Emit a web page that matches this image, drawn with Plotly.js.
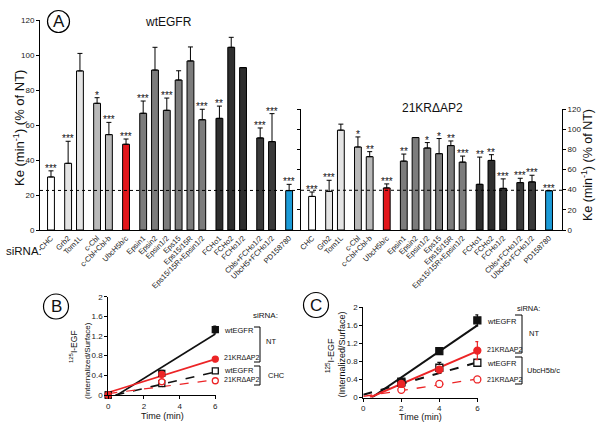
<!DOCTYPE html>
<html>
<head>
<meta charset="utf-8">
<script src="https://cdn.plot.ly/plotly-3.0.1.min.js"></script>
<style>
  html, body { margin: 0; padding: 0; background: #fff; }
  #chart { width: 602px; height: 430px; }
</style>
</head>
<body>
<div id="chart"></div>
<script>
// ---- panel A: Ke bars, wtEGFR (left) and 21KRdAP2 (right)
var siRNA = ["CHC", "Grb2", "Tom1L", "c-Cbl", "c-Cbl+Cbl-b", "UbcH5b/c",
  "Epsin1", "Epsin2", "Epsin1/2", "Eps15", "Eps15/15R", "Eps15/15R+Epsin1/2",
  "FCHo1", "FCHo2", "FCHo1/2", "Cbls+FCHo1/2", "UbcH5+FCHo1/2", "PD158780"];
var siGroup = [0, 1, 1, 2, 2, 3, 4, 4, 4, 4, 4, 4, 5, 5, 5, 6, 6, 7];

var wtKe = [30.3, 38.1, 90.9, 72.4, 54.5, 49, 66.7, 91.4, 68.4, 85.7, 96.6, 63, 63.8, 104.4, 92.8, 52.6, 50.5, 22.5];
var wtErr = [3.5, 12.6, 10, 3.2, 7, 3, 7, 13, 7, 5.3, 8, 6, 7, 5.7, 0, 5.7, 16, 3.6];
var wtStars = ["***", "***", "", "*", "***", "***", "***", "", "***", "", "", "***", "**", "", "", "***", "***", "***"];
var wtLevel = 22.6;

var krKe = [33.3, 38.3, 99, 82.3, 72.7, 41.7, 68.3, 91.7, 81.3, 75.7, 83.7, 67.3, 45.3, 69, 41.3, 47, 47.7, 39];
var krErr = [4.4, 11, 6, 10, 5, 4, 7, 0, 5.4, 15, 4.6, 6, 27, 5.7, 9.4, 4.3, 6.6, 0];
var krStars = ["***", "***", "", "*", "**", "***", "**", "", "*", "*", "**", "***", "**", "**", "***", "***", "***", "***"];
var krLevel = 39.4;

// ---- panel B: 125I-EGF uptake, NT vs CHC siRNA
var timeB = [0, 3, 6];
var bWtNT = [0, 0.44, 1.33],  bWtNTerr = [0, 0.06, 0.07];
var bKrNT = [0, 0.42, 0.73],  bKrNTerr = [0, 0.05, 0.05];
var bWtCHC = [0, 0.23, 0.49], bWtCHCerr = [0, 0.03, 0.03];
var bKrCHC = [0, 0.27, 0.29], bKrCHCerr = [0, 0.03, 0.02];
// fitted lines as [start, end]
var bFitT = { wtNT: [0.5, 6], krNT: [0, 6], wtCHC: [0.4, 6], krCHC: [0, 6] };
var bFitY = { wtNT: [0, 1.24], krNT: [0.05, 0.73], wtCHC: [0, 0.47], krCHC: [0.03, 0.31] };

// ---- panel C: 125I-EGF uptake, NT vs UbcH5b/c siRNA
var timeC = [2, 4, 6];
var cWtNT = [0.35, 1.03, 1.71],  cWtNTerr = [0.03, 0.05, 0.12];
var cKrNT = [0.30, 0.62, 1.04],  cKrNTerr = [0.02, 0.05, 0.2];
var cWtUbc = [0.33, 0.66, 0.77], cWtUbcErr = [0.03, 0.12, 0.03];
var cKrUbc = [0.17, 0.30, 0.40], cKrUbcErr = [0.02, 0.02, 0.03];
var cFitT = { wtNT: [0.45, 6], krNT: [0.35, 6], wtUbc: [0, 6], krUbc: [0, 6] };
var cFitY = { wtNT: [0, 1.6], krNT: [0, 1.03], wtUbc: [0.06, 0.78], krUbc: [0.025, 0.41] };

var timeTicks = [0, 2, 4, 6];
var uptakeTicks = [0, 0.4, 0.8, 1.2, 1.6, 2];
var uptakeTickText = ["0", "0.4", "0.8", "1.2", "1.6", "2"];

// ---- styling
var W = 602, H = 430;
function px(x) { return x / W; }
function py(y) { return 1 - y / H; }
var FONT = "Liberation Sans, Arial, sans-serif";
var groupColors = ["#ffffff", "#e4e4e4", "#b9b9b9", "#e3161b", "#7c7c7c", "#2e2e2e", "#3a3a3a", "#1b9bd8"];
var RED = "#ec2426", BLACK = "#111111";

var barPos = siRNA.map(function (s, i) { return i + siGroup[i] * 0.45; });
var barColors = siGroup.map(function (g) { return groupColors[g]; });
var zeros = siRNA.map(function () { return 0; });

function barTrace(vals, errs, xa, ya) {
  return {
    type: "bar", x: barPos, y: vals, xaxis: xa, yaxis: ya, width: 0.58,
    marker: { color: barColors, line: { color: "#000", width: 1 } },
    error_y: { type: "data", symmetric: false, array: errs, arrayminus: zeros,
      color: "#000", thickness: 1, width: 2.5 },
    hoverinfo: "skip", showlegend: false
  };
}

function fitTrace(t, y, color, dash, xa, ya, w) {
  return { type: "scatter", mode: "lines", x: t, y: y, xaxis: xa, yaxis: ya,
    line: { color: color, width: w || 1.6, dash: dash }, hoverinfo: "skip", showlegend: false };
}

function pointTrace(t, y, err, color, symbol, open, size, xa, ya) {
  return { type: "scatter", mode: "markers", x: t, y: y, xaxis: xa, yaxis: ya, cliponaxis: false,
    marker: { symbol: symbol, size: size, color: open ? "#fff" : color, line: { color: color, width: 1.3 } },
    error_y: { type: "data", array: err, color: color, thickness: 1.2, width: 2 },
    hoverinfo: "skip", showlegend: false };
}

var data = [
  barTrace(wtKe, wtErr, "x", "y"),
  barTrace(krKe, krErr, "x2", "y2"),

  fitTrace(bFitT.wtNT, bFitY.wtNT, BLACK, "solid", "x3", "y3"),
  fitTrace(bFitT.krNT, bFitY.krNT, RED, "solid", "x3", "y3"),
  fitTrace(bFitT.wtCHC, bFitY.wtCHC, BLACK, "dash", "x3", "y3"),
  fitTrace(bFitT.krCHC, bFitY.krCHC, RED, "dash", "x3", "y3", 1.2),
  pointTrace(timeB, bWtCHC, bWtCHCerr, BLACK, "square", true, 6, "x3", "y3"),
  pointTrace(timeB, bKrCHC, bKrCHCerr, RED, "circle", true, 6, "x3", "y3"),
  pointTrace(timeB, bWtNT, bWtNTerr, BLACK, "square", false, 6, "x3", "y3"),
  pointTrace(timeB, bKrNT, bKrNTerr, RED, "circle", false, 6, "x3", "y3"),

  fitTrace(cFitT.wtNT, cFitY.wtNT, BLACK, "solid", "x4", "y4", 2),
  fitTrace(cFitT.krNT, cFitY.krNT, RED, "solid", "x4", "y4", 2),
  fitTrace(cFitT.wtUbc, cFitY.wtUbc, BLACK, "dash", "x4", "y4", 2),
  fitTrace(cFitT.krUbc, cFitY.krUbc, RED, "dash", "x4", "y4", 1.3),
  pointTrace(timeC, cWtUbc, cWtUbcErr, BLACK, "square", true, 7, "x4", "y4"),
  pointTrace(timeC, cKrUbc, cKrUbcErr, RED, "circle", true, 7, "x4", "y4"),
  pointTrace(timeC, cWtNT, cWtNTerr, BLACK, "square", false, 7, "x4", "y4"),
  pointTrace(timeC, cKrNT, cKrNTerr, RED, "circle", false, 7, "x4", "y4")
];

var tickFont = { family: FONT, size: 8, color: "#222" };
var catFont = { family: FONT, size: 7.5, color: "#222" };

function catAxis(dom, rng, anchor) {
  return { domain: dom, range: rng, anchor: anchor, tickvals: barPos, ticktext: siRNA,
    tickangle: -45, tickfont: catFont, showline: true, linecolor: "#000", linewidth: 1,
    ticks: "", showgrid: false, zeroline: false, fixedrange: true };
}
function valAxis(dom, rng, anchor, extra) {
  var a = { domain: dom, range: rng, anchor: anchor, ticks: "outside", ticklen: 3,
    tickcolor: "#000", tickfont: tickFont, showline: true, linecolor: "#000", linewidth: 1,
    showgrid: false, zeroline: false, fixedrange: true };
  for (var k in extra) a[k] = extra[k];
  return a;
}

var annotations = [];
function note(x, y, text, size, opts) {
  var a = { xref: "paper", yref: "paper", x: px(x), y: py(y), text: text, showarrow: false,
    font: { family: FONT, size: size, color: "#111" }, xanchor: "center", yanchor: "middle" };
  for (var k in opts) a[k] = opts[k];
  annotations.push(a);
}

// significance stars above bars
function addStars(vals, errs, stars, xa, ya) {
  stars.forEach(function (s, i) {
    if (!s) return;
    annotations.push({ xref: xa, yref: ya, x: barPos[i], y: vals[i] + errs[i], text: s,
      showarrow: false, yanchor: "bottom", yshift: -5,
      font: { family: FONT, size: 10, color: "#111" } });
  });
}
addStars(wtKe, wtErr, wtStars, "x", "y");
addStars(krKe, krErr, krStars, "x2", "y2");

// panel A text
note(58.5, 21.5, "A", 17);
note(168, 22, "wtEGFR", 12);
note(432, 108, "21KR\u0394AP2", 12);
note(19, 128, "Ke (min<sup>-1</sup>) (% of NT)", 13, { textangle: -90 });
note(587, 165, "Ke (min<sup>-1</sup>) (% of NT)", 12.5, { textangle: -90 });
note(24, 251, "siRNA:", 11.5);

// panel B text
note(56, 306.5, "B", 17);
note(73, 347, "<sup>125</sup>I-EGF", 8.5, { textangle: -90 });
note(87, 361, "(Internalized/Surface)", 8, { textangle: -90 });
note(162, 416, "Time (min)", 9);
note(265, 315, "siRNA:", 8);
note(222, 330, "wtEGFR", 7.5, { xanchor: "left" });
note(222, 357.5, "21KR\u0394AP2", 7, { xanchor: "left" });
note(222, 370, "wtEGFR", 7.5, { xanchor: "left" });
note(222, 379.5, "21KR\u0394AP2", 7, { xanchor: "left" });
note(264, 341, "NT", 7.5, { xanchor: "left" });
note(266, 375, "CHC", 7.5, { xanchor: "left" });

// panel C text
note(316, 305, "C", 17);
note(330, 356, "<sup>125</sup>I-EGF", 9, { textangle: -90 });
note(341.5, 355, "(Internalized/Surface)", 9, { textangle: -90 });
note(420, 417, "Time (min)", 9);
note(528, 308, "siRNA:", 7.5);
note(485, 321.5, "wtEGFR", 7.5, { xanchor: "left" });
note(485, 349.5, "21KR\u0394AP2", 7, { xanchor: "left" });
note(485, 363.5, "wtEGFR", 7.5, { xanchor: "left" });
note(485, 379.5, "21KR\u0394AP2", 7, { xanchor: "left" });
note(527, 333, "NT", 7.5, { xanchor: "left" });
note(525, 370, "UbcH5b/c", 7.5, { xanchor: "left" });

function circle(cx, cy, r) {
  return { type: "circle", xref: "paper", yref: "paper", x0: px(cx - r), x1: px(cx + r),
    y0: py(cy + r), y1: py(cy - r), line: { color: "#000", width: 1.2 } };
}
function bracket(x, y0, y1, arm) {
  var p = "M" + px(x - arm) + "," + py(y0) + " L" + px(x) + "," + py(y0) +
    " L" + px(x) + "," + py(y1) + " L" + px(x - arm) + "," + py(y1);
  return { type: "path", xref: "paper", yref: "paper", path: p, line: { color: "#000", width: 1 } };
}

var shapes = [
  { type: "line", xref: "paper", yref: "y", x0: px(40), x1: px(298), y0: wtLevel, y1: wtLevel,
    line: { color: "#000", width: 1, dash: "dot" } },
  { type: "line", xref: "paper", yref: "y2", x0: px(301), x1: px(562), y0: krLevel, y1: krLevel,
    line: { color: "#000", width: 1, dash: "dot" } },
  circle(58.5, 21.5, 11),
  circle(56, 306.5, 12.5),
  circle(316, 305, 12.5),
  bracket(260, 327, 362, 6),
  bracket(260, 366, 385, 6),
  bracket(522, 315, 353, 7),
  bracket(522, 357, 384, 7)
];

var layout = {
  width: W, height: H,
  margin: { l: 0, r: 0, t: 0, b: 0 },
  paper_bgcolor: "#fff", plot_bgcolor: "rgba(0,0,0,0)",
  font: { family: FONT, size: 9, color: "#111" },
  showlegend: false,
  bargap: 0,
  xaxis: catAxis([px(40), px(298)], [-0.93, 20.9], "y"),
  yaxis: valAxis([py(230), py(20)], [0, 120], "x", { dtick: 20 }),
  xaxis2: catAxis([px(301), px(562)], [-0.94, 21.25], "y2"),
  yaxis2: valAxis([py(230), py(109)], [0, 120], "x2", { dtick: 20, side: "right", mirror: "ticks" }),
  xaxis3: valAxis([px(108.3), px(216.2)], [0, 6.05], "y3", { tickvals: timeTicks }),
  yaxis3: valAxis([py(395), py(296.7)], [0, 2], "x3", { tickvals: uptakeTicks, ticktext: uptakeTickText }),
  xaxis4: valAxis([px(363.3), px(478.3)], [0, 6.05], "y4", { tickvals: timeTicks }),
  yaxis4: valAxis([py(397.5), py(307.3)], [0, 2], "x4", { tickvals: uptakeTicks, ticktext: uptakeTickText }),
  annotations: annotations,
  shapes: shapes
};

Plotly.newPlot("chart", data, layout, { displayModeBar: false, staticPlot: true });
</script>
</body>
</html>
